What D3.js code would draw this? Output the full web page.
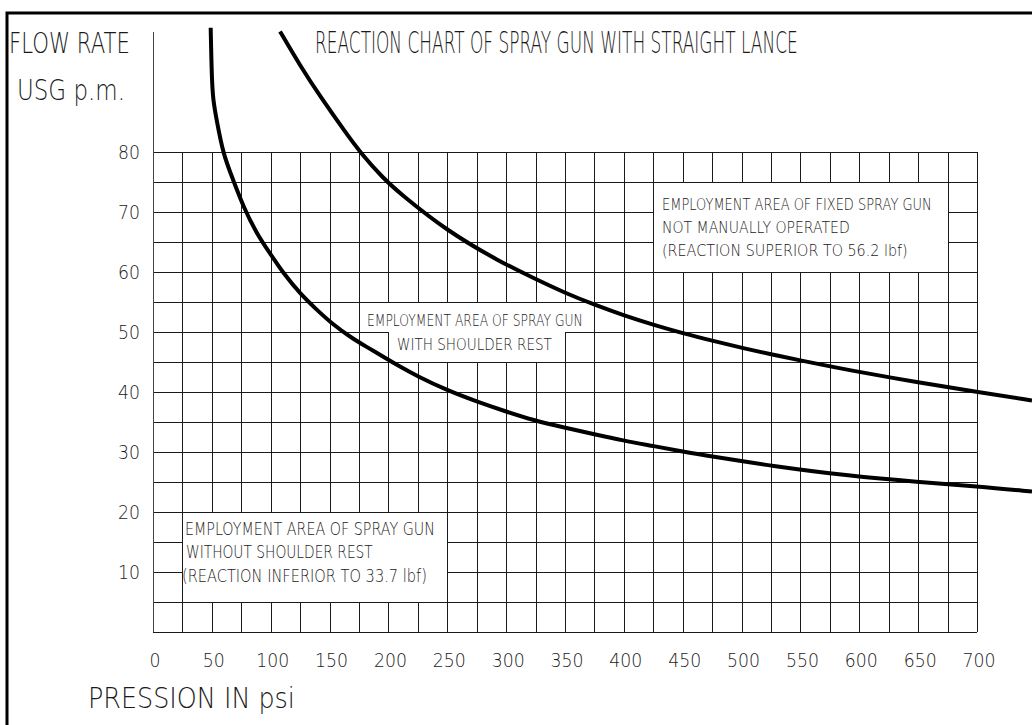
<!DOCTYPE html>
<html>
<head>
<meta charset="utf-8">
<script src="https://cdn.jsdelivr.net/npm/d3@7"></script>
<style>
  body { margin: 0; background: #fff; }
  text { font-family: "DejaVu Sans", "Liberation Sans", sans-serif; font-weight: 200; fill: #1a1a1a; }
</style>
</head>
<body>
<script>
// pressure (psi) / flow (USG p.m.)
var lowP  = [49.0, 49.9, 51.0, 54.1, 59.5, 68.2, 76.7, 88.1, 99.4, 110.7, 124.9, 139.1, 153.2, 167.3, 181.5, 195.6, 209.8, 224.0, 249.5, 275.0, 300.5, 323.0, 348.5, 374.0, 399.5, 425.0, 450.5, 473.2, 525, 592, 650, 700, 746.7];
var lowQ  = [100.7, 92.5, 88.7, 85.3, 79.7, 75.3, 70.9, 66.4, 63.1, 59.8, 56.4, 53.7, 51.2, 49.2, 47.5, 45.9, 44.2, 42.7, 40.3, 38.4, 36.7, 35.3, 34.1, 33.0, 31.9, 31.0, 30.05, 29.3, 27.7, 26.0, 25.0, 24.3, 23.4];
var highP = [107.9, 124.9, 141.9, 164.5, 175.8, 195.6, 209.8, 250, 294.8, 323.1, 350.0, 375.5, 399.5, 425.0, 450.0, 476.0, 501.5, 527.0, 546.8, 592, 650, 700, 746.7];
var highQ = [100.1, 94.4, 89.3, 83.0, 80.0, 75.6, 73.1, 66.8, 61.7, 59.0, 56.5, 54.5, 52.8, 51.2, 49.8, 48.5, 47.3, 46.2, 45.4, 43.6, 41.6, 40.0, 38.6];

var xTicks = [0, 50, 100, 150, 200, 250, 300, 350, 400, 450, 500, 550, 600, 650, 700];
var yTicks = [10, 20, 30, 40, 50, 60, 70, 80];

var title = "REACTION CHART OF SPRAY GUN WITH STRAIGHT LANCE";
var yTitle = ["FLOW RATE", "USG p.m."];
var xTitle = "PRESSION IN psi";

// white label areas, outlines in psi / flow units
var areaFixed = [[425, 75], [675, 75], [675, 60], [425, 60]];
var areaShoulder = [[175, 55], [375, 55], [375, 50], [350, 50], [350, 45], [200, 45], [200, 50], [175, 50]];
var areaHand = [[25, 20], [250, 20], [250, 5], [25, 5]];

var textFixed = ["EMPLOYMENT AREA OF FIXED SPRAY GUN", "NOT MANUALLY OPERATED", "(REACTION SUPERIOR TO 56.2 lbf)"];
var textShoulder = ["EMPLOYMENT AREA OF SPRAY GUN", "WITH SHOULDER REST"];
var textHand = ["EMPLOYMENT AREA OF SPRAY GUN", "WITHOUT SHOULDER REST", "(REACTION INFERIOR TO 33.7 lbf)"];

var W = 1032, H = 725;
var svg = d3.select("body").append("svg").attr("width", W).attr("height", H);

var x = d3.scaleLinear().domain([0, 700]).range([153, 977]);
var y = d3.scaleLinear().domain([0, 80]).range([632, 152]);

// sheet frame
svg.append("path")
    .attr("d", "M7," + H + "V13H" + W)
    .attr("fill", "none").attr("stroke", "#000").attr("stroke-width", 3);

var grid = svg.append("g").attr("shape-rendering", "crispEdges").attr("stroke", "#1a1a1a").attr("stroke-width", 1);

grid.selectAll(".v")
    .data(d3.range(0, 701, 25))
    .enter()
    .append("line")
    .attr("x1", function(d) { return Math.round(x(d)) + 0.5; })
    .attr("x2", function(d) { return Math.round(x(d)) + 0.5; })
    .attr("y1", y(80)).attr("y2", y(0));

grid.selectAll(".h")
    .data(d3.range(0, 81, 5))
    .enter()
    .append("line")
    .attr("y1", function(d) { return Math.round(y(d)) + 0.5; })
    .attr("y2", function(d) { return Math.round(y(d)) + 0.5; })
    .attr("x1", x(0)).attr("x2", x(700));

// flow axis goes up to the label
grid.append("line")
    .attr("x1", Math.round(x(0)) + 0.5).attr("x2", Math.round(x(0)) + 0.5)
    .attr("y1", 32).attr("y2", y(0))
    .attr("stroke", "#444");

var outline = d3.line()
    .x(function(d) { return Math.round(x(d[0])) + 0.5; })
    .y(function(d) { return Math.round(y(d[1])) + 0.5; });

[areaFixed, areaShoulder, areaHand].forEach(function(a) {
    svg.append("path")
        .attr("d", outline(a) + "Z")
        .attr("fill", "#fff").attr("stroke", "#1a1a1a").attr("stroke-width", 1)
        .attr("shape-rendering", "crispEdges");
});

// reaction curves
var curve = d3.line()
    .x(function(d) { return x(d[0]); })
    .y(function(d) { return y(d[1]); })
    .curve(d3.curveBasis);

[[lowP, lowQ], [highP, highQ]].forEach(function(s) {
    svg.append("path")
        .datum(d3.zip(s[0], s[1]))
        .attr("d", curve)
        .attr("fill", "none").attr("stroke", "#000").attr("stroke-width", 4)
        .attr("stroke-linecap", "butt");
});

// narrow drafting lettering: squeeze each text horizontally to its width
function squeeze(sel, len, anchor) {
    sel.each(function() {
        var t = d3.select(this);
        var px = +t.attr("x"), py = +t.attr("y");
        var w = this.getComputedTextLength();
        var L = typeof len === "function" ? len(t.datum()) : len;
        var k = w > 0 ? L / w : 1;
        var dx = anchor === "end" ? -L : anchor === "middle" ? -L / 2 : 0;
        t.attr("x", 0).attr("y", 0).attr("text-anchor", "start")
            .attr("transform", "translate(" + (px + dx) + "," + py + ") scale(" + k + ",1)");
    });
}

var xt = svg.selectAll(".xt")
    .data(xTicks)
    .enter()
    .append("text")
    .attr("x", function(d) { return x(d) + 2; })
    .attr("y", 667)
    .attr("font-size", 20)
    .text(function(d) { return d; });
squeeze(xt, function(d) { return String(d).length * 11; }, "middle");

var yt = svg.selectAll(".yt")
    .data(yTicks)
    .enter()
    .append("text")
    .attr("x", 140)
    .attr("y", function(d) { return y(d) + 7; })
    .attr("font-size", 20)
    .text(function(d) { return d; });
squeeze(yt, function(d) { return String(d).length * 11; }, "end");

function label(t, px, py, size, len) {
    var s = svg.append("text")
        .attr("x", px).attr("y", py)
        .attr("font-size", size)
        .text(t);
    squeeze(s, len, "start");
}

label(title, 315, 53, 30, 483);
label(yTitle[0], 9, 53, 29, 121);
label(yTitle[1], 17, 100, 29, 108);
label(xTitle, 88, 708, 28, 207);

label(textFixed[0], 662, 210, 15, 270);
label(textFixed[1], 662, 233, 15, 188);
label(textFixed[2], 662, 256, 15, 246);

label(textShoulder[0], 367, 326, 15, 216);
label(textShoulder[1], 397, 350, 15, 155);

label(textHand[0], 185, 535, 17, 250);
label(textHand[1], 186, 558, 17, 187);
label(textHand[2], 182, 582, 17, 245);
</script>
</body>
</html>
